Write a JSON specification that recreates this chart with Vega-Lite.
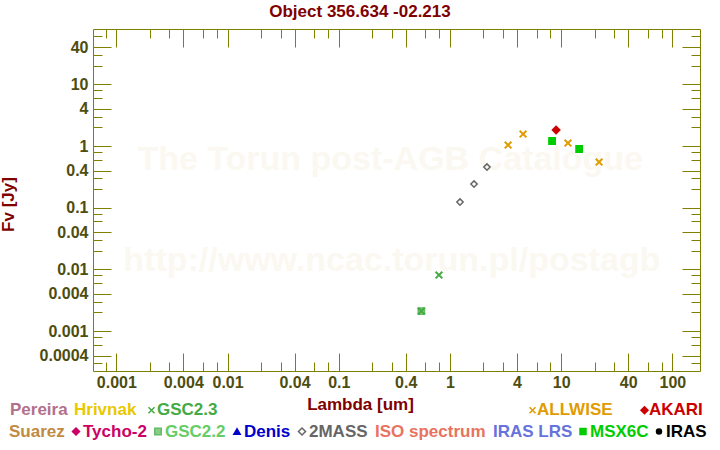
{
  "$schema": "https://vega.github.io/schema/vega-lite/v6.json",
  "width": 607,
  "height": 342,
  "autosize": {"type": "none"},
  "padding": {"left": 93, "top": 29, "right": 20, "bottom": 79},
  "background": "white",
  "title": {
    "text": "Object 356.634 -02.213",
    "frame": "group",
    "anchor": "middle",
    "dx": -36.5,
    "offset": 8,
    "font": "Liberation Sans",
    "fontSize": 17,
    "fontWeight": "bold",
    "color": "#800000"
  },
  "datasets": {
    "sed": [
      {"lam": 0.553, "flux": 0.00211, "cat": "GSC2.2"},
      {"lam": 0.553, "flux": 0.00211, "cat": "GSC2.3"},
      {"lam": 0.796, "flux": 0.00809, "cat": "GSC2.3"},
      {"lam": 1.23, "flux": 0.1236, "cat": "2MASS"},
      {"lam": 1.645, "flux": 0.242, "cat": "2MASS"},
      {"lam": 2.15, "flux": 0.456, "cat": "2MASS"},
      {"lam": 3.33, "flux": 1.038, "cat": "ALLWISE"},
      {"lam": 4.54, "flux": 1.565, "cat": "ALLWISE"},
      {"lam": 11.5, "flux": 1.118, "cat": "ALLWISE"},
      {"lam": 21.9, "flux": 0.55, "cat": "ALLWISE"},
      {"lam": 9.0, "flux": 1.817, "cat": "AKARI"},
      {"lam": 8.28, "flux": 1.205, "cat": "MSX6C"},
      {"lam": 14.5, "flux": 0.894, "cat": "MSX6C"}
    ]
  },
  "data": {"name": "sed"},
  "layer": [
    {
      "data": {"values": [{}]},
      "mark": {"type": "text", "text": "The Torun post-AGB Catalogue", "font": "Liberation Sans", "fontSize": 34, "fontWeight": "bold", "color": "#fbf8f1", "align": "center", "baseline": "alphabetic"},
      "encoding": {
        "x": {"datum": 0.29, "type": "quantitative", "scale": {"type": "log", "domain": [0.000617, 177], "nice": false},
          "axis": {"orient": "bottom", "values": [0.001, 0.004, 0.01, 0.04, 0.1, 0.4, 1, 4, 10, 40, 100], "tickSize": -18, "labelPadding": 21, "format": "~g",
            "title": "Lambda [um]", "titleX": 267, "titleY": 38, "titleBaseline": "alphabetic", "titleAlign": "center"}},
        "y": {"datum": 0.41, "type": "quantitative", "scale": {"type": "log", "domain": [0.000225, 79], "nice": false},
          "axis": {"orient": "left", "values": [0.0004, 0.001, 0.004, 0.01, 0.04, 0.1, 0.4, 1, 4, 10, 40], "tickSize": -18, "labelPadding": 23, "format": "~g",
            "title": "Fv [Jy]", "titleX": -79.5, "titleY": 175, "titleAngle": 270, "titleBaseline": "alphabetic", "titleAlign": "center"}}
      }
    },
    {
      "data": {"values": [{}]},
      "mark": {"type": "text", "text": "http://www.ncac.torun.pl/postagb", "font": "Liberation Sans", "fontSize": 34, "fontWeight": "bold", "color": "#fbf8f1", "align": "center", "baseline": "alphabetic"},
      "encoding": {
        "x": {"datum": 0.3, "type": "quantitative", "scale": {"type": "log"},
          "axis": {"orient": "bottom", "values": [0.0008, 0.002, 0.003, 0.006, 0.008, 0.02, 0.03, 0.06, 0.08, 0.2, 0.3, 0.6, 0.8, 2, 3, 6, 8, 20, 30, 60, 80], "tickSize": -9, "labels": false, "title": null}},
        "y": {"datum": 0.0095, "type": "quantitative", "scale": {"type": "log"},
          "axis": {"orient": "left", "values": [0.0003, 0.0006, 0.0008, 0.002, 0.003, 0.006, 0.008, 0.02, 0.03, 0.06, 0.08, 0.2, 0.3, 0.6, 0.8, 2, 3, 6, 8, 20, 30, 60], "tickSize": -9, "labels": false, "title": null}}
      }
    },
    {
      "transform": [{"filter": {"field": "cat", "oneOf": ["GSC2.2", "2MASS", "MSX6C"]}}],
      "mark": {"type": "point", "opacity": 1, "strokeWidth": 1.5, "size": 40},
      "encoding": {
        "x": {"field": "lam", "type": "quantitative", "scale": {"type": "log"},
          "axis": {"orient": "top", "values": [0.001, 0.004, 0.01, 0.04, 0.1, 0.4, 1, 4, 10, 40, 100], "tickSize": -18, "labels": false, "title": null}},
        "y": {"field": "flux", "type": "quantitative", "scale": {"type": "log"},
          "axis": {"orient": "right", "values": [0.0004, 0.001, 0.004, 0.01, 0.04, 0.1, 0.4, 1, 4, 10, 40], "tickSize": -18, "labels": false, "title": null}},
        "shape": {"field": "cat", "type": "nominal", "legend": null,
          "scale": {"domain": ["Suarez", "Tycho-2", "GSC2.2", "Denis", "2MASS", "ISO spectrum", "IRAS LRS", "MSX6C", "IRAS"],
            "range": ["circle", "diamond", "square", "triangle-up", "diamond", "circle", "circle", "square", "circle"]}},
        "fill": {"field": "cat", "type": "nominal", "legend": null,
          "scale": {"domain": ["Suarez", "Tycho-2", "GSC2.2", "Denis", "2MASS", "ISO spectrum", "IRAS LRS", "MSX6C", "IRAS"],
            "range": ["transparent", "#cc0066", "#88cc88", "#0000cc", "transparent", "transparent", "transparent", "#00cc00", "#000000"]}},
        "color": {"field": "cat", "type": "nominal",
          "scale": {"domain": ["Suarez", "Tycho-2", "GSC2.2", "Denis", "2MASS", "ISO spectrum", "IRAS LRS", "MSX6C", "IRAS"],
            "range": ["#c08a40", "#cc0066", "#66bb66", "#0000cc", "#666666", "#e8735f", "#6673dd", "#00cc00", "#000000"]},
          "legend": {
            "orient": "none", "legendX": -84, "legendY": 402.5, "direction": "horizontal", "title": null,
            "padding": 0, "columnPadding": 4, "labelOffset": 3, "symbolSize": 40, "gridAlign": "each",
            "labelFont": "Liberation Sans", "labelFontSize": 17, "labelFontWeight": "bold",
            "encoding": {
              "symbols": {
                "shape": {"value": {"expr": "['circle','diamond','square','triangle-up','diamond','circle','circle','square','circle'][indexof(['Suarez','Tycho-2','GSC2.2','Denis','2MASS','ISO spectrum','IRAS LRS','MSX6C','IRAS'], datum.value)]"}},
                "size": {"value": {"expr": "[0,50,42,40,50,0,0,36,25][indexof(['Suarez','Tycho-2','GSC2.2','Denis','2MASS','ISO spectrum','IRAS LRS','MSX6C','IRAS'], datum.value)]"}},
                "fill": {"value": {"expr": "['transparent','#cc0066','transparent','#0000cc','transparent','transparent','transparent','#00cc00','#000000'][indexof(['Suarez','Tycho-2','GSC2.2','Denis','2MASS','ISO spectrum','IRAS LRS','MSX6C','IRAS'], datum.value)]"}},
                "stroke": {"value": {"expr": "['transparent','#cc0066','#66cc66','#0000cc','#666666','transparent','transparent','#00cc00','#000000'][indexof(['Suarez','Tycho-2','GSC2.2','Denis','2MASS','ISO spectrum','IRAS LRS','MSX6C','IRAS'], datum.value)]"}},
                "strokeWidth": {"value": 1.5},
                "opacity": {"value": 1}
              },
              "labels": {
                "fill": {"value": {"expr": "['#c08a40','#cc0066','#66cc66','#0000cc','#666666','#e8735f','#6673dd','#00cc00','#000000'][indexof(['Suarez','Tycho-2','GSC2.2','Denis','2MASS','ISO spectrum','IRAS LRS','MSX6C','IRAS'], datum.value)]"}},
                "x": {"value": {"expr": "[0,7,7,7,7,0,0,7,7][indexof(['Suarez','Tycho-2','GSC2.2','Denis','2MASS','ISO spectrum','IRAS LRS','MSX6C','IRAS'], datum.value)]"}}
              }
            }
          }
        }
      }
    },
    {
      "transform": [{"filter": {"field": "cat", "oneOf": ["ALLWISE", "AKARI"]}}],
      "mark": {"type": "point", "opacity": 1, "strokeWidth": 2, "size": 45},
      "encoding": {
        "x": {"field": "lam", "type": "quantitative", "scale": {"type": "log"},
          "axis": {"orient": "top", "values": [0.0008, 0.002, 0.003, 0.006, 0.008, 0.02, 0.03, 0.06, 0.08, 0.2, 0.3, 0.6, 0.8, 2, 3, 6, 8, 20, 30, 60, 80], "tickSize": -9, "labels": false, "title": null}},
        "y": {"field": "flux", "type": "quantitative", "scale": {"type": "log"},
          "axis": {"orient": "right", "values": [0.0003, 0.0006, 0.0008, 0.002, 0.003, 0.006, 0.008, 0.02, 0.03, 0.06, 0.08, 0.2, 0.3, 0.6, 0.8, 2, 3, 6, 8, 20, 30, 60], "tickSize": -9, "labels": false, "title": null}},
        "shape": {"field": "cat", "type": "nominal", "legend": null,
          "scale": {"domain": ["ALLWISE", "AKARI"], "range": ["M-1,-1L1,1M-1,1L1,-1", "diamond"]}},
        "fill": {"field": "cat", "type": "nominal", "legend": null,
          "scale": {"domain": ["ALLWISE", "AKARI"], "range": ["transparent", "#cc0000"]}},
        "color": {"field": "cat", "type": "nominal",
          "scale": {"domain": ["ALLWISE", "AKARI"], "range": ["#e09b00", "#cc0000"]},
          "legend": {
            "orient": "none", "legendX": 431, "legendY": 372.5, "direction": "horizontal", "title": null,
            "padding": 0, "columnPadding": 23, "labelOffset": 3, "symbolSize": 40, "gridAlign": "each",
            "labelFont": "Liberation Sans", "labelFontSize": 17, "labelFontWeight": "bold",
            "encoding": {
              "symbols": {
                "shape": {"value": {"expr": "datum.value === 'AKARI' ? 'diamond' : 'M-1,-1L1,1M-1,1L1,-1'"}},
                "size": {"value": {"expr": "datum.value === 'AKARI' ? 50 : 36"}},
                "fill": {"value": {"expr": "datum.value === 'AKARI' ? '#cc0000' : 'transparent'"}},
                "stroke": {"value": {"expr": "datum.value === 'AKARI' ? '#cc0000' : '#e09b00'"}},
                "strokeWidth": {"value": 1.5},
                "opacity": {"value": 1}
              },
              "labels": {
                "fill": {"value": {"expr": "datum.value === 'AKARI' ? '#cc0000' : '#e09b00'"}},
                "x": {"value": 13}
              }
            }
          }
        }
      }
    },
    {
      "transform": [{"filter": {"field": "cat", "oneOf": ["GSC2.3"]}}],
      "mark": {"type": "point", "opacity": 1, "strokeWidth": 2, "size": 45, "shape": "M-1,-1L1,1M-1,1L1,-1"},
      "encoding": {
        "x": {"field": "lam", "type": "quantitative", "scale": {"type": "log"}, "axis": null},
        "y": {"field": "flux", "type": "quantitative", "scale": {"type": "log"}, "axis": null},
        "color": {"field": "cat", "type": "nominal",
          "scale": {"domain": ["Pereira", "Hrivnak", "GSC2.3"], "range": ["#b3708c", "#e8c800", "#44aa44"]},
          "legend": {
            "orient": "none", "legendX": -83, "legendY": 372.5, "direction": "horizontal", "title": null,
            "padding": 0, "columnPadding": 6, "labelOffset": 3, "symbolSize": 40, "gridAlign": "each",
            "labelFont": "Liberation Sans", "labelFontSize": 17, "labelFontWeight": "bold",
            "encoding": {
              "symbols": {
                "shape": {"value": {"expr": "datum.value === 'GSC2.3' ? 'M-1,-1L1,1M-1,1L1,-1' : 'circle'"}},
                "size": {"value": {"expr": "datum.value === 'GSC2.3' ? 36 : 0"}},
                "fill": {"value": "transparent"},
                "stroke": {"value": {"expr": "datum.value === 'GSC2.3' ? '#44aa44' : 'transparent'"}},
                "strokeWidth": {"value": 1.5},
                "opacity": {"value": 1}
              },
              "labels": {
                "fill": {"value": {"expr": "['#b3708c','#e8c800','#44aa44'][indexof(['Pereira','Hrivnak','GSC2.3'], datum.value)]"}},
                "x": {"value": {"expr": "datum.value === 'GSC2.3' ? 14 : 0"}}
              }
            }
          }
        }
      }
    }
  ],
  "resolve": {
    "scale": {"fill": "independent", "color": "independent", "shape": "independent"},
    "axis": {"x": "independent", "y": "independent"}
  },
  "config": {
    "view": {"stroke": "#808000", "strokeWidth": 1},
    "axis": {
      "domain": false, "grid": false, "tickColor": "#808000", "tickWidth": 1,
      "labelFont": "Liberation Sans", "labelFontSize": 16, "labelFontWeight": "bold", "labelColor": "#4d4d10",
      "labelFlush": false, "labelOverlap": false, "labelBound": false,
      "titleFont": "Liberation Sans", "titleFontSize": 17, "titleFontWeight": "bold", "titleColor": "#800000"
    }
  }
}
